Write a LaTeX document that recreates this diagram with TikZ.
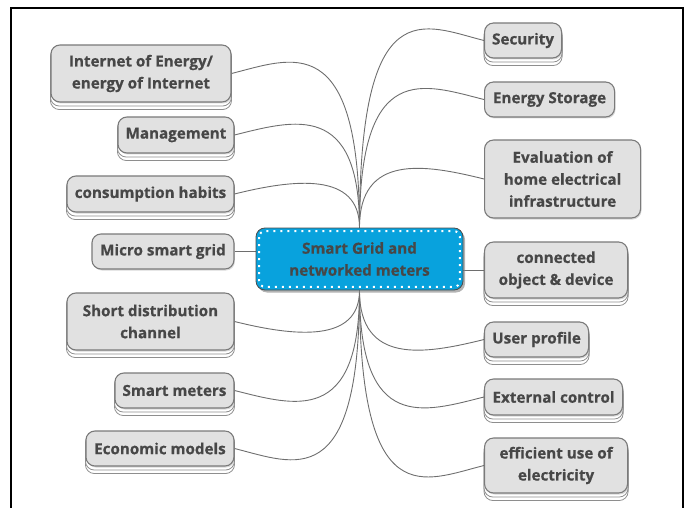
\documentclass[tikz,border=0pt]{standalone}
\usepackage{fontspec}
\setmainfont{Open Sans}[BoldFeatures={FakeBold=0.6}]
\usetikzlibrary{shadows,backgrounds}
\definecolor{txt}{HTML}{474747}
\definecolor{boxfill}{HTML}{E1E1E1}
\definecolor{boxdraw}{HTML}{7A7A7A}
\definecolor{cyanfill}{HTML}{08A2DD}
\definecolor{linkc}{HTML}{6E6E6E}
\newcommand\stackbelow[1]{%
  \begin{scope}[on background layer]
    \draw[layerbox] ([yshift=-7pt]#1.south west) rectangle ([yshift=-7pt]#1.north east);
    \draw[layerbox] ([yshift=-3.5pt]#1.south west) rectangle ([yshift=-3.5pt]#1.north east);
  \end{scope}}
\begin{document}
\begin{tikzpicture}[x=1pt,y=1pt,
  leaf/.style={draw=boxdraw, fill=boxfill, line width=1.1pt, rounded corners=9pt,
    inner sep=0pt, align=center, text=txt,
    font=\fontsize{15.2}{22}\selectfont\bfseries,
    drop shadow={shadow xshift=1pt, shadow yshift=-1.5pt, opacity=0.3}},
  hub/.style={draw=black!70, fill=cyanfill, line width=0.8pt, rounded corners=9pt,
    inner sep=0pt, align=center, text=txt,
    font=\fontsize{15.2}{22}\selectfont\bfseries,
    drop shadow={shadow xshift=2pt, shadow yshift=-2.5pt, opacity=0.6}},
  layerbox/.style={draw=boxdraw!85, fill=white, line width=0.8pt, rounded corners=9pt},
  link/.style={draw=linkc, line width=0.9pt},
  dots/.style={draw=white, line width=2pt, dash pattern=on 2pt off 5pt, rounded corners=6pt}
]
\useasboundingbox (0,0) rectangle (688,507);
\draw[line width=1.8pt] (11,-20) -- (11,499.3) -- (683,499.3) -- (683,-20);

% hub
\node[hub, minimum width=207pt, minimum height=62pt] (hub) at (359.5,248) {Smart Grid and\\networked meters};
\draw[dots] ([shift={(3.5,-3.5)}]hub.north west) rectangle ([shift={(-3.5,3.5)}]hub.south east);

% left nodes
\node[leaf, anchor=east, minimum width=180pt, minimum height=57pt] (inet) at (231.5,433.5) {Internet of Energy/\\energy of Internet};
\node[leaf, anchor=east, minimum width=116pt, minimum height=36pt] (mgmt) at (234.5,372) {Management};
\node[leaf, anchor=east, minimum width=167pt, minimum height=36pt] (cons) at (234.5,313) {consumption habits};
\node[leaf, anchor=east, minimum width=142pt, minimum height=35pt] (micro) at (234.5,255.5) {Micro smart grid};
\node[leaf, anchor=east, minimum width=167pt, minimum height=57pt] (short) at (234.5,185.5) {Short distribution\\channel};
\node[leaf, anchor=east, minimum width=119pt, minimum height=35pt] (meters) at (234.5,116.5) {Smart meters};
\node[leaf, anchor=east, minimum width=148pt, minimum height=35pt] (econ) at (234.5,58.5) {Economic models};

% right nodes
\node[leaf, anchor=west, minimum width=77pt, minimum height=35pt] (sec) at (484,466.5) {Security};
\node[leaf, anchor=west, minimum width=130pt, minimum height=35pt] (stor) at (484,407.5) {Energy Storage};
\node[leaf, anchor=west, minimum width=156pt, minimum height=78pt] (eval) at (484,328) {Evaluation of\\home electrical\\infrastructure};
\node[leaf, anchor=west, minimum width=143pt, minimum height=56pt] (conn) at (484,237) {connected\\object \& device};
\node[leaf, anchor=west, minimum width=104pt, minimum height=35pt] (user) at (484,167.5) {User profile};
\node[leaf, anchor=west, minimum width=138pt, minimum height=36pt] (ext) at (484,110) {External control};
\node[leaf, anchor=west, minimum width=143pt, minimum height=55pt] (eff) at (484,41.5) {efficient use of\\electricity};

\stackbelow{inet}
\stackbelow{mgmt}
\stackbelow{cons}
\stackbelow{short}
\stackbelow{meters}
\stackbelow{econ}
\stackbelow{sec}
\stackbelow{conn}
\stackbelow{user}
\stackbelow{ext}
\stackbelow{eff}

% connectors
\begin{scope}[on background layer]
\draw[link] (hub.north) .. controls +(0,200.5) and +(60,15) .. (inet.east);
\draw[link] (hub.north) .. controls +(0,126.6) and +(60,15) .. (mgmt.east);
\draw[link] (hub.north) .. controls +(0,55.8) and +(60,15) .. (cons.east);
\draw[link] (micro.east) -- (micro.east -| hub.west);
\draw[link] (hub.south) .. controls +(0,-52.8) and +(60,-15) .. (short.east);
\draw[link] (hub.south) .. controls +(0,-135.6) and +(60,-15) .. (meters.east);
\draw[link] (hub.south) .. controls +(0,-205.2) and +(60,-15) .. (econ.east);
\draw[link] (hub.north) .. controls +(0,240) and +(-60,15) .. (sec.west);
\draw[link] (hub.north) .. controls +(0,169.2) and +(-60,15) .. (stor.west);
\draw[link] (hub.north) .. controls +(0,73.8) and +(-60,15) .. (eval.west);
\draw[link] (conn.west -| hub.east) -- (conn.west);
\draw[link] (hub.south) .. controls +(0,-74.4) and +(-60,-15) .. (user.west);
\draw[link] (hub.south) .. controls +(0,-143.4) and +(-60,-15) .. (ext.west);
\draw[link] (hub.south) .. controls +(0,-225.6) and +(-60,-15) .. (eff.west);
\end{scope}
\end{tikzpicture}
\end{document}
